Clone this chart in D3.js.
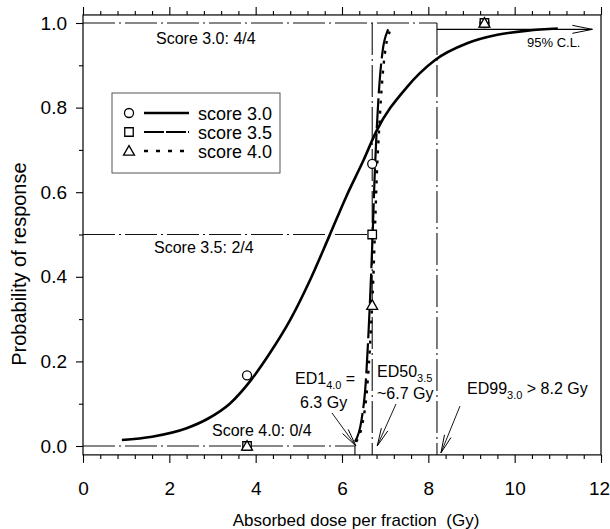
<!DOCTYPE html>
<html><head><meta charset="utf-8">
<script src="https://cdn.jsdelivr.net/npm/d3@7"></script>
<style>body{margin:0;background:#fff} text{font-family:"Liberation Sans",Arial,sans-serif;fill:#000}</style>
</head><body><svg id="c" width="610" height="529"></svg>
<script>
// ---------- data ----------
const xTicks = [0, 2, 4, 6, 8, 10, 12];
const yTicks = [0, 0.2, 0.4, 0.6, 0.8, 1.0];
const categories = ["score 3.0", "score 3.5", "score 4.0"];
const doses = [3.8, 6.7, 9.3];
const obs30 = [0.167, 0.667, 1.0];
const obs35 = [0.0, 0.5, 1.0];
const obs40 = [0.0, 0.333, 1.0];
const fit30 = [[0.9,0.014],[1.6,0.022],[2.4,0.042],[2.9,0.065],[3.4,0.10],[3.9,0.157],[4.3,0.215],
  [4.8,0.298],[5.25,0.39],[5.7,0.495],[6.1,0.59],[6.5,0.676],[6.8,0.745],[7.5,0.848],[8.15,0.912],
  [8.9,0.952],[9.6,0.972],[10.3,0.982],[11.0,0.987]];
const fit35 = [[6.30,0.01],[6.45,0.06],[6.55,0.15],[6.62,0.28],[6.68,0.42],[6.71,0.5],[6.75,0.62],
  [6.80,0.74],[6.87,0.86],[6.95,0.94],[7.05,0.98],[7.12,0.99]];
const fit40 = [[6.28,0.01],[6.42,0.05],[6.53,0.13],[6.62,0.27],[6.68,0.40],[6.72,0.52],[6.76,0.64],
  [6.82,0.76],[6.89,0.87],[6.97,0.945],[7.06,0.98],[7.12,0.99]];
const refLines = [ // dash-dot reference lines [x1,y1,x2,y2]
  [0,1,8.2,1],[8.2,1,8.2,-0.021],[0,0.5,6.66,0.5],[0,0,6.3,0],[6.7,1,6.7,-0.021]];
const groupLabels = ["Score 3.0: 4/4", "Score 3.5: 2/4", "Score 4.0: 0/4"];
const ed = [6.3, 6.7, 8.2];
const clRange = [8.2, 11.8, 0.985];

// ---------- layout ----------
const FONT = "Liberation Sans, Arial, sans-serif";
const svg = d3.select("#c");
const x = d3.scaleLinear([0, 12], [83, 601]);
const y = d3.scaleLinear([0, 1], [446, 23]);
const yTop = y(1.019), yBot = y(-0.021);

svg.append("rect").attr("x", x(0)).attr("y", yTop).attr("width", x(12) - x(0)).attr("height", yBot - yTop)
  .attr("fill", "none").attr("stroke", "#000").attr("stroke-width", 1.2);

function axisStyle(g) { g.select(".domain").remove(); g.selectAll("line").attr("stroke", "#000").attr("stroke-width", 1.1); }
const minorX = d3.range(0, 12.001, 0.4).filter(v => Math.abs(v / 2 - Math.round(v / 2)) > 1e-6);
const minorY = [0.1, 0.3, 0.5, 0.7, 0.9];

const bx = svg.append("g").attr("transform", `translate(0,${yBot})`)
  .call(d3.axisBottom(x).tickValues(xTicks).tickSize(8).tickPadding(19).tickFormat(d3.format("d")))
  .call(axisStyle);
bx.selectAll("text").attr("font-size", 19).attr("font-family", FONT);
bx.selectAll("text").filter(d => d === 12).attr("dx", -2);
svg.append("g").attr("transform", `translate(0,${yBot})`)
  .call(d3.axisBottom(x).tickValues(minorX).tickSize(4).tickFormat("")).call(axisStyle);
svg.append("g").attr("transform", `translate(0,${yTop})`)
  .call(d3.axisTop(x).tickValues(xTicks).tickSize(8).tickFormat("")).call(axisStyle);
svg.append("g").attr("transform", `translate(0,${yTop})`)
  .call(d3.axisTop(x).tickValues(minorX).tickSize(4).tickFormat("")).call(axisStyle);
svg.append("g").attr("transform", `translate(${x(0)},0)`)
  .call(d3.axisLeft(y).tickValues(yTicks).tickSize(7).tickPadding(9).tickFormat(d3.format(".1f")))
  .call(axisStyle).selectAll("text").attr("font-size", 19).attr("font-family", FONT);
svg.append("g").attr("transform", `translate(${x(0)},0)`)
  .call(d3.axisLeft(y).tickValues(minorY).tickSize(4).tickFormat("")).call(axisStyle);

// axis titles
svg.append("text").attr("x", (x(0) + x(12)) / 2 + 14).attr("y", 526).attr("text-anchor", "middle")
  .attr("font-size", 17).text("Absorbed dose per fraction\u00A0 (Gy)");
svg.append("text").attr("transform", `translate(26,${y(0.43)}) rotate(-90)`).attr("text-anchor", "middle")
  .attr("font-size", 20).text("Probability of response");

// reference dash-dot lines
svg.append("g").selectAll("line").data(refLines).join("line")
  .attr("x1", d => x(d[0])).attr("y1", d => y(d[1])).attr("x2", d => x(d[2])).attr("y2", d => y(d[3]))
  .attr("stroke", "#111").attr("stroke-width", 1.1).attr("stroke-dasharray", "32,4,2,4");
svg.append("line").attr("x1", x(ed[0])).attr("x2", x(ed[0])).attr("y1", y(0)).attr("y2", yBot)
  .attr("stroke", "#000").attr("stroke-width", 1.1);

// curves
const line = d3.line().x(d => x(d[0])).y(d => y(d[1])).curve(d3.curveMonotoneX);
svg.append("path").attr("d", line(fit30)).attr("fill", "none").attr("stroke", "#000").attr("stroke-width", 2.6);
svg.append("path").attr("d", line(fit35)).attr("fill", "none").attr("stroke", "#000").attr("stroke-width", 2.2)
  .attr("stroke-dasharray", "30,5");
svg.append("path").attr("d", line(fit40)).attr("fill", "none").attr("stroke", "#000").attr("stroke-width", 2.4)
  .attr("stroke-dasharray", "3,7").attr("transform", "translate(2,0)");

// markers
const sym = [d3.symbolCircle, d3.symbolSquare, d3.symbolTriangle];
const symSize = [64, 72, 52];
function marker(g, k, px, py) {
  g.append("path").attr("d", d3.symbol(sym[k], symSize[k])()).attr("transform", `translate(${px},${py + (k === 2 ? 1 : 0)})`)
    .attr("fill", "#fff").attr("stroke", "#000").attr("stroke-width", 1.3);
}
const mk = svg.append("g");
[obs30, obs35, obs40].forEach((arr, k) => arr.forEach((v, i) => marker(mk, k, x(doses[i]), y(v))));

// 95% C.L. arrow
function arrowHead(g, x1, y1, x2, y2, len, hw) {
  const a = Math.atan2(y2 - y1, x2 - x1), c = Math.cos(a), s = Math.sin(a);
  const bx = x2 - len * c, by = y2 - len * s;
  g.append("path").attr("d", `M${bx - hw * s},${by + hw * c}L${x2},${y2}L${bx + hw * s},${by - hw * c}`)
    .attr("fill", "none").attr("stroke", "#000").attr("stroke-width", 1);
}
svg.append("line").attr("x1", x(clRange[0])).attr("x2", x(clRange[1])).attr("y1", y(clRange[2])).attr("y2", y(clRange[2]))
  .attr("stroke", "#000").attr("stroke-width", 1.3);
arrowHead(svg, x(clRange[0]), y(clRange[2]), x(clRange[1]), y(clRange[2]), 20, 4);
svg.append("text").attr("x", 527).attr("y", 47).attr("font-size", 13).text("95% C.L.");

// group labels
svg.append("text").attr("x", 156).attr("y", 44).attr("font-size", 16).text(groupLabels[0]);
svg.append("text").attr("x", 154).attr("y", 253).attr("font-size", 16).text(groupLabels[1]);
svg.append("text").attr("x", 212).attr("y", 436).attr("font-size", 16).text(groupLabels[2]);

// ED annotations
function edText(px, py, main, sub, rest) {
  const t = svg.append("text").attr("x", px).attr("y", py).attr("font-size", 16);
  t.append("tspan").text(main);
  t.append("tspan").attr("font-size", 11).attr("dy", 5).text(sub);
  if (rest) t.append("tspan").attr("dy", -5).text(rest);
}
edText(295, 384, "ED1", "4.0", " =");
svg.append("text").attr("x", 300).attr("y", 408).attr("font-size", 16).text(ed[0].toFixed(1) + " Gy");
edText(377, 377, "ED50", "3.5", null);
svg.append("text").attr("x", 377).attr("y", 399).attr("font-size", 16).text("~" + ed[1].toFixed(1) + " Gy");
edText(467, 394, "ED99", "3.0", " > " + ed[2].toFixed(1) + " Gy");

const pointers = [[332, 413, x(ed[0]) + 1, y(0)], [396, 404, x(ed[1]) + 5, y(0)], [460, 406, x(ed[2]) + 4, yBot - 2]];
pointers.forEach(p => {
  svg.append("line").attr("x1", p[0]).attr("y1", p[1]).attr("x2", p[2]).attr("y2", p[3]).attr("stroke", "#000").attr("stroke-width", 0.9);
  arrowHead(svg, p[0], p[1], p[2], p[3], 18, 3.5);
});

// legend
const lg = svg.append("g");
lg.append("rect").attr("x", 112).attr("y", 93).attr("width", 168).attr("height", 80)
  .attr("fill", "#fff").attr("stroke", "#555").attr("stroke-width", 1);
const lgDash = [null, "20,2", "4,8"], lgW = [2.6, 2.2, 2.6];
categories.forEach((c, i) => {
  const yy = 113 + i * 19;
  marker(lg, i, 129, yy);
  lg.append("line").attr("x1", 144).attr("x2", 189).attr("y1", yy).attr("y2", yy).attr("stroke", "#000")
    .attr("stroke-width", lgW[i]).attr("stroke-dasharray", lgDash[i]);
  lg.append("text").attr("x", 198).attr("y", yy + 6.5).attr("font-size", 18).text(c);
});
</script></body></html>
